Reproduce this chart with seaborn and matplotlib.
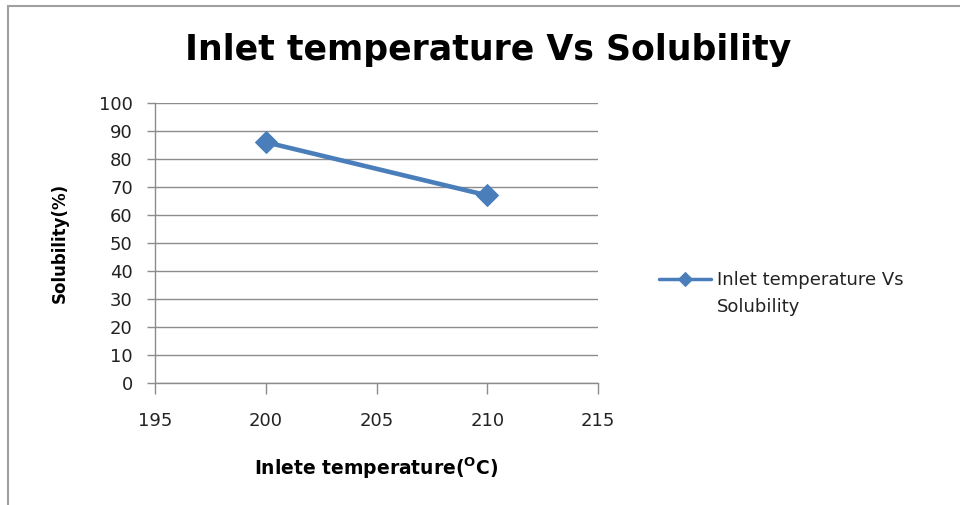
import matplotlib
matplotlib.use("Agg")
import matplotlib.pyplot as plt
import seaborn as sns
import pandas as pd
from matplotlib.patches import Rectangle

temps = [200, 210]
solubility = [86, 67]
series_line1 = "Inlet temperature Vs"
series_line2 = "Solubility"
x_ticks = [195, 200, 205, 210, 215]
y_ticks = list(range(0, 101, 10))

sns.set_theme(style="white")
plt.rcParams['font.family'] = ['DejaVu Sans']

df = pd.DataFrame({"temp": temps, "sol": solubility, "series": series_line1})

fig = plt.figure(figsize=(9.6, 5.05), dpi=100)
ax = fig.add_axes([155/960, 1-383/505, (598-155)/960, (383-103)/505])

color = "#4A7EBB"
sns.lineplot(data=df, x="temp", y="sol", hue="series", palette=[color], marker="D",
             markersize=11.5, linewidth=3.3, markeredgecolor=color, ax=ax)

ax.set_xlim(195, 215)
ax.set_ylim(0, 100)
ax.set_xticks(x_ticks)
ax.set_yticks(y_ticks)
ax.grid(axis="y", color="#8c8c8c", linewidth=1.0)
ax.set_axisbelow(True)
for s in ["top", "right"]:
    ax.spines[s].set_visible(False)
for s in ["left", "bottom"]:
    ax.spines[s].set_color("#8c8c8c")
    ax.spines[s].set_linewidth(1.0)
ax.tick_params(axis="y", direction="out", length=6, width=1, color="#8c8c8c",
               labelsize=13, pad=10, left=True)
ax.tick_params(axis="x", direction="out", length=8, width=1, color="#8c8c8c",
               labelsize=13, pad=13, bottom=True)
for lab in ax.get_xticklabels() + ax.get_yticklabels():
    lab.set_color("#222222")

ax.set_xlabel(r"Inlete temperature($^{\mathbf{O}}$C)", fontsize=13.5, fontweight="bold",
              labelpad=18, color="black")
ax.set_ylabel("Solubility(%)", fontsize=12, fontweight="bold", color="black")
ax.yaxis.set_label_coords((69-155)/443, (383-243)/280)

fig.suptitle("Inlet temperature Vs Solubility", x=488/960, y=1-50/505, va="center",
             fontsize=25, fontweight="bold", color="black")

leg = ax.legend(loc="center left", bbox_to_anchor=(659/960, 1-280/505),
                bbox_transform=fig.transFigure, frameon=False,
                fontsize=13, handlelength=2.9, handletextpad=0.3, borderaxespad=0,
                borderpad=0, title=None)
for t in leg.get_texts():
    t.set_color("#222222")
for h in leg.legend_handles:
    h.set_linewidth(2.5)
    h.set_markersize(7)
fig.text(717/960, 1-307/505, series_line2, fontsize=13, color="#222222",
         ha="left", va="center")

fig.patches.append(Rectangle((8/960, -0.1), 1.2, 1 - 6/505 + 0.1, transform=fig.transFigure,
                             fill=False, edgecolor="#a0a0a0", linewidth=1.5))

fig.savefig("out.png", dpi=100)
